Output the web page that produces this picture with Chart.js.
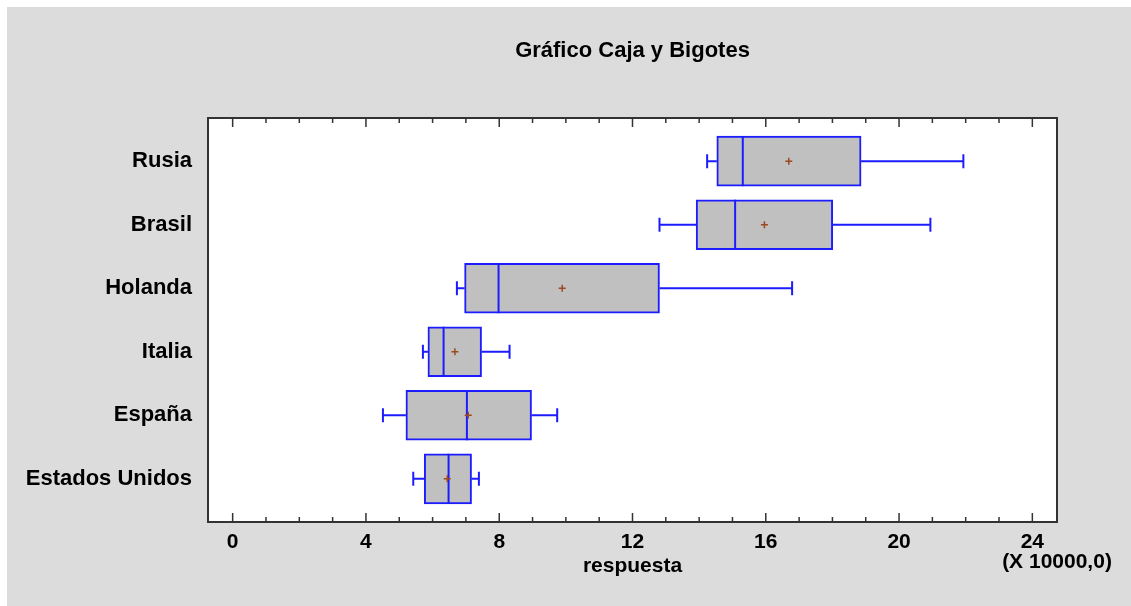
<!DOCTYPE html>
<html>
<head>
<meta charset="utf-8">
<title>Gráfico Caja y Bigotes</title>
<script src="https://cdn.jsdelivr.net/npm/chart.js@4/dist/chart.umd.min.js"></script>
<style>
  html, body { margin: 0; padding: 0; background: #ffffff; }
  canvas { display: block; }
</style>
</head>
<body>
<canvas id="chart" width="1131" height="606"></canvas>
<script>
// Box-plot statistics per country (values in units of 10000)
const categories  = ['Rusia', 'Brasil', 'Holanda', 'Italia', 'España', 'Estados Unidos'];
const whiskerLow  = [14.24, 12.81, 6.73, 5.71, 4.51, 5.42];
const q1          = [14.53, 13.91, 6.96, 5.86, 5.20, 5.75];
const median      = [15.31, 15.08, 7.98, 6.33, 7.03, 6.48];
const mean        = [16.69, 15.96, 9.89, 6.67, 7.07, 6.44];
const q3          = [18.86, 18.01, 12.81, 7.47, 8.97, 7.17];
const whiskerHigh = [21.93, 20.94, 16.79, 8.31, 9.74, 7.39];

// Axis ticks and texts
const xMajorTicks = [0, 4, 8, 12, 16, 20, 24];
const xMinorStep  = 1;
const chartTitle  = 'Gráfico Caja y Bigotes';
const xTitle      = 'respuesta';
const xUnitNote   = '(X 10000,0)';

const FONT_FAMILY = '"Liberation Sans", Arial, Helvetica, sans-serif';
const tickFont = { family: FONT_FAMILY, size: 21, weight: 'bold' };
const categoryFont = { family: FONT_FAMILY, size: 22, weight: 'bold' };
const BOX_BLUE = '#1c1cff';
const MEAN_COLOR = '#9a4a1e';
const FRAME_COLOR = '#333333';
const BOX_HALF = 25;
const BOX_LINE = 2;

const boxPlotPlugin = {
  id: 'boxPlotExtras',
  beforeDraw(chart) {
    const { ctx, width, height, chartArea: a } = chart;
    ctx.save();
    ctx.fillStyle = '#ffffff';
    ctx.fillRect(0, 0, width, height);
    ctx.fillStyle = '#dcdcdc';
    ctx.fillRect(7, 7, width - 7, height - 7);
    ctx.fillStyle = '#ffffff';
    ctx.fillRect(a.left, a.top, a.right - a.left, a.bottom - a.top);
    // Title centred over the plot area
    ctx.fillStyle = '#000000';
    ctx.font = 'bold 22px ' + FONT_FAMILY;
    ctx.textAlign = 'center';
    ctx.textBaseline = 'alphabetic';
    ctx.fillText(chartTitle, (a.left + a.right) / 2, a.top - 61.5);
    ctx.restore();
  },
  beforeDatasetsDraw(chart) {
    // Whiskers and their end caps
    const { ctx, scales: { x, y } } = chart;
    ctx.save();
    ctx.strokeStyle = BOX_BLUE;
    ctx.lineWidth = BOX_LINE;
    categories.forEach((_, i) => {
      const yc = y.getPixelForValue(i);
      const xl = x.getPixelForValue(whiskerLow[i]);
      const xq1 = x.getPixelForValue(q1[i]);
      const xq3 = x.getPixelForValue(q3[i]);
      const xh = x.getPixelForValue(whiskerHigh[i]);
      ctx.beginPath();
      ctx.moveTo(xl, yc); ctx.lineTo(xq1, yc);
      ctx.moveTo(xq3, yc); ctx.lineTo(xh, yc);
      ctx.moveTo(xl, yc - 7); ctx.lineTo(xl, yc + 7);
      ctx.moveTo(xh, yc - 7); ctx.lineTo(xh, yc + 7);
      ctx.stroke();
    });
    ctx.restore();
  },
  afterDatasetsDraw(chart) {
    // Median lines and mean markers
    const { ctx, scales: { x, y } } = chart;
    ctx.save();
    categories.forEach((_, i) => {
      const yc = y.getPixelForValue(i);
      const xm = x.getPixelForValue(median[i]);
      ctx.strokeStyle = BOX_BLUE;
      ctx.lineWidth = BOX_LINE;
      ctx.beginPath();
      ctx.moveTo(xm, yc - BOX_HALF); ctx.lineTo(xm, yc + BOX_HALF);
      ctx.stroke();
      const xa = x.getPixelForValue(mean[i]);
      ctx.strokeStyle = MEAN_COLOR;
      ctx.lineWidth = 1.5;
      ctx.beginPath();
      ctx.moveTo(xa - 3.5, yc); ctx.lineTo(xa + 3.5, yc);
      ctx.moveTo(xa, yc - 3.5); ctx.lineTo(xa, yc + 3.5);
      ctx.stroke();
    });
    ctx.restore();
  },
  afterDraw(chart) {
    const { ctx, chartArea: a, scales: { x } } = chart;
    ctx.save();
    // Inward tick marks on the bottom and top edges
    ctx.strokeStyle = FRAME_COLOR;
    ctx.lineWidth = 1.5;
    ctx.beginPath();
    x.ticks.forEach(t => {
      const px = x.getPixelForValue(t.value);
      const len = xMajorTicks.includes(t.value) ? 9 : 5;
      ctx.moveTo(px, a.bottom); ctx.lineTo(px, a.bottom - len);
      ctx.moveTo(px, a.top); ctx.lineTo(px, a.top + len);
    });
    ctx.stroke();
    // Plot frame
    ctx.lineWidth = 2;
    ctx.strokeRect(a.left, a.top, a.right - a.left, a.bottom - a.top);
    // Scale factor note under the last tick label
    ctx.fillStyle = '#000000';
    ctx.font = 'bold 21px ' + FONT_FAMILY;
    ctx.textAlign = 'center';
    ctx.textBaseline = 'alphabetic';
    ctx.fillText(xUnitNote, a.right, a.bottom + 45.5);
    ctx.restore();
  }
};

new Chart(document.getElementById('chart'), {
  type: 'bar',
  data: {
    datasets: [{
      data: categories.map((_, i) => ({ y: i, x: [q1[i], q3[i]] })),
      backgroundColor: '#c0c0c0',
      borderColor: BOX_BLUE,
      borderWidth: BOX_LINE,
      borderSkipped: false,
      barThickness: BOX_HALF * 2
    }]
  },
  options: {
    indexAxis: 'y',
    responsive: false,
    animation: false,
    devicePixelRatio: 1,
    events: [],
    layout: { padding: { left: 0, right: 74, top: 118, bottom: 0 } },
    plugins: {
      legend: { display: false },
      title: { display: false },
      tooltip: { enabled: false }
    },
    scales: {
      x: {
        type: 'linear',
        position: 'bottom',
        offset: false,
        min: -0.74,
        max: 24.74,
        afterBuildTicks(scale) {
          const ticks = [];
          for (let v = xMajorTicks[0]; v <= xMajorTicks[xMajorTicks.length - 1]; v += xMinorStep) {
            ticks.push({ value: v });
          }
          scale.ticks = ticks;
        },
        afterFit(scale) { scale.height = 84; },
        grid: { display: false, drawTicks: false },
        border: { display: false },
        ticks: {
          autoSkip: false,
          maxRotation: 0,
          padding: 8,
          color: '#000000',
          font: tickFont,
          callback: v => xMajorTicks.includes(v) ? String(v) : ''
        },
        title: {
          display: true,
          text: xTitle,
          color: '#000000',
          font: tickFont,
          padding: { top: 0, bottom: 27 }
        }
      },
      y: {
        type: 'linear',
        reverse: true,
        offset: false,
        min: -0.68,
        max: 5.68,
        afterBuildTicks(scale) {
          scale.ticks = categories.map((_, i) => ({ value: i }));
        },
        afterFit(scale) { scale.width = 208; },
        grid: { display: false, drawTicks: false, offset: false },
        border: { display: false },
        ticks: {
          autoSkip: false,
          padding: 16,
          color: '#000000',
          font: categoryFont,
          callback: v => categories[v] !== undefined ? categories[v] : ''
        }
      }
    }
  },
  plugins: [boxPlotPlugin]
});
</script>
</body>
</html>
